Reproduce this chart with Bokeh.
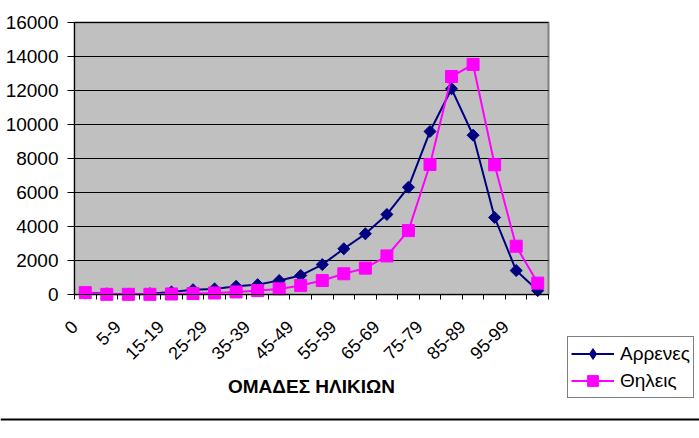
import math
from bokeh.plotting import figure
from bokeh.models import (Range1d, FixedTicker, Legend, LegendItem, BoxAnnotation, Span)
from bokeh.embed import file_html
from bokeh.resources import INLINE

categories = ["0", "1-4", "5-9", "10-14", "15-19", "20-24", "25-29", "30-34",
              "35-39", "40-44", "45-49", "50-54", "55-59", "60-64", "65-69",
              "70-74", "75-79", "80-84", "85-89", "90-94", "95-99", "100+"]
males = [100, 40, 30, 50, 150, 280, 330, 480, 580, 820, 1120, 1760, 2690,
         3570, 4710, 6310, 9590, 12100, 9370, 4530, 1410, 230]
females = [110, 10, 10, 10, 30, 60, 90, 150, 230, 330, 530, 820, 1220,
           1550, 2270, 3760, 7650, 12820, 13530, 7630, 2840, 670]
y_ticks = [0, 2000, 4000, 6000, 8000, 10000, 12000, 14000, 16000]
series_names = ["Αρρενες", "Θηλεις"]
x_title = "ΟΜΑΔΕΣ ΗΛΙΚΙΩΝ"

FONT = "Liberation Sans"
n = len(categories)
xs = [i + 0.5 for i in range(n)]
Y_MAX = y_ticks[-1]

# pixel layout of the plot area inside a full-canvas frame
W, H = 699, 438
PL, PR, PT, PB = 74, 548, 22, 294
sx = (PR - PL) / n
sy = (PB - PT) / Y_MAX
x_range = Range1d(-PL / sx, n + (W - PR) / sx)
y_range = Range1d(-(H - PB) / sy, Y_MAX + PT / sy)

p = figure(width=W, height=H, output_backend="svg", toolbar_location=None,
           x_range=x_range, y_range=y_range,
           min_border_left=0, min_border_right=0, min_border_top=0,
           min_border_bottom=0)
p.background_fill_color = "white"
p.border_fill_color = "white"
p.outline_line_color = None

# gray plot area
p.add_layout(BoxAnnotation(left=0, right=n, bottom=0, top=Y_MAX,
                           fill_color="#C0C0C0", fill_alpha=1.0,
                           line_color="#808080", line_width=2, line_alpha=1.0,
                           level="image"))
# chart-area bottom rule
p.add_layout(Span(location=-(419 - PB) / sy, dimension="width",
                  line_color="black", line_width=2))

# x axis: labels anchored at the left edge of every other category
shown = list(range(0, n, 2))
xa = p.xaxis[0]
xa.fixed_location = 0
xa.bounds = (0, n)
xa.ticker = FixedTicker(ticks=[float(i) for i in shown], minor_ticks=list(range(n + 1)))
xa.major_label_overrides = {float(i): categories[i] for i in shown}
xa.major_label_orientation = math.pi / 4
xa.major_tick_out = 0
xa.major_tick_in = 0
xa.minor_tick_out = 5
xa.minor_tick_in = 0
xa.minor_tick_line_color = "black"
xa.axis_line_color = "black"
xa.major_label_text_font = FONT
xa.major_label_text_font_size = "18px"
xa.major_label_text_color = "black"
xa.major_label_standoff = 24
xa.axis_label = x_title
xa.axis_label_text_font = FONT
xa.axis_label_text_font_size = "19px"
xa.axis_label_text_font_style = "bold"
xa.axis_label_text_color = "black"
xa.axis_label_standoff = 8

# y axis
ya = p.yaxis[0]
ya.fixed_location = 0
ya.bounds = (0, Y_MAX)
ya.ticker = FixedTicker(ticks=y_ticks, minor_ticks=[])
ya.major_tick_out = 7
ya.major_tick_in = 0
ya.minor_tick_out = 0
ya.minor_tick_in = 0
ya.axis_line_color = "black"
ya.major_tick_line_color = "black"
ya.major_label_text_font = FONT
ya.major_label_text_font_size = "19px"
ya.major_label_text_color = "black"
ya.major_label_standoff = 9

p.xgrid.grid_line_color = None
try:
    p.ygrid.cross_bounds = (0, n)
    p.ygrid.grid_line_color = "black"
    p.ygrid.grid_line_width = 1
except AttributeError:
    p.ygrid.grid_line_color = None
    p.segment(x0=[0] * len(y_ticks), x1=[n] * len(y_ticks), y0=y_ticks, y1=y_ticks,
              line_color="black", line_width=1, level="underlay")

# series
ml = p.line(xs, males, line_color="#000080", line_width=2)
mm = p.scatter(xs, males, marker="square", angle=math.pi / 4, size=8.5,
               fill_color="#000080", line_color="#000080")
fl = p.line(xs, females, line_color="#FF00FF", line_width=2)
fm = p.scatter(xs, females, marker="square", size=12,
               fill_color="#FF00FF", line_color="#FF00FF")
# legend swatch for the diamond marker (legend glyphs ignore marker angle);
# a single NaN point so nothing is drawn in the plot itself
mm_key = p.scatter(x=[float("nan")], y=[float("nan")], marker="diamond", size=12,
                   fill_color="#000080", line_color="#000080")

legend = Legend(items=[LegendItem(label=series_names[0], renderers=[ml, mm_key]),
                       LegendItem(label=series_names[1], renderers=[fl, fm])],
                location=(567, H - 398), orientation="vertical")
legend.label_text_font = FONT
legend.label_text_font_size = "19px"
legend.label_text_color = "black"
legend.glyph_width = 43
legend.glyph_height = 27
legend.label_standoff = 6
legend.padding = 3
legend.spacing = 0
legend.margin = 0
legend.border_line_color = "black"
legend.border_line_width = 1
legend.background_fill_color = "white"
legend.background_fill_alpha = 1.0
p.add_layout(legend, "center")

open("out.html", "w").write(file_html(p, INLINE))
